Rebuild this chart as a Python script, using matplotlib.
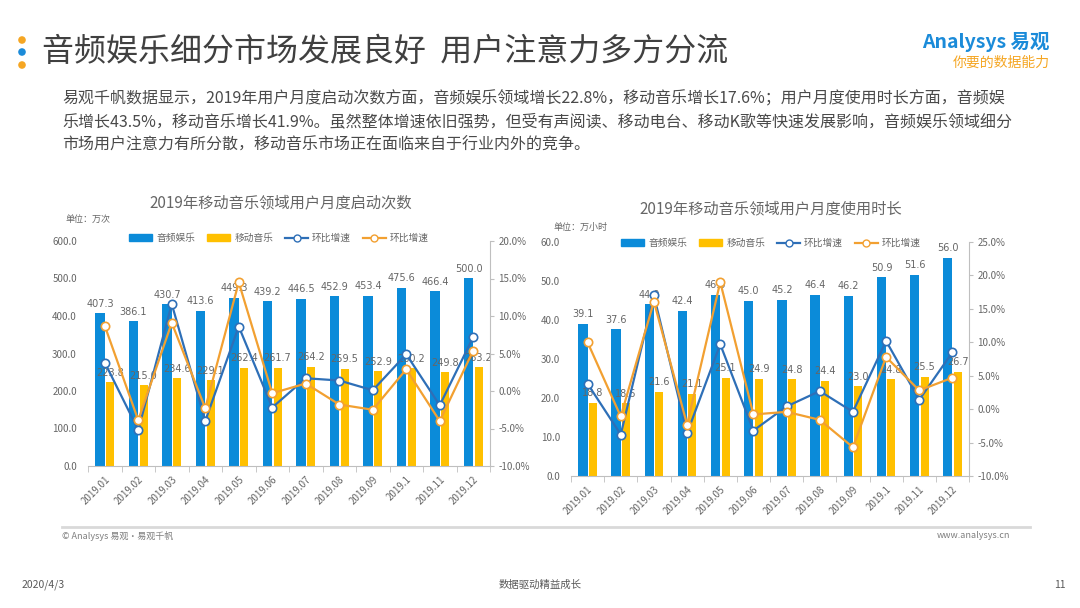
import matplotlib
matplotlib.use("Agg")
import matplotlib.pyplot as plt
import numpy as np
from matplotlib.lines import Line2D
from matplotlib.patches import Patch

plt.rcParams['font.family'] = ['Noto Sans CJK SC', 'DejaVu Sans']

months = ["2019.01", "2019.02", "2019.03", "2019.04", "2019.05", "2019.06",
          "2019.07", "2019.08", "2019.09", "2019.1", "2019.11", "2019.12"]

# 启动次数 (万次)
launch_audio = [407.3, 386.1, 430.7, 413.6, 449.3, 439.2, 446.5, 452.9, 453.4, 475.6, 466.4, 500.0]
launch_music = [223.8, 215.0, 234.6, 229.1, 262.4, 261.7, 264.2, 259.5, 252.9, 260.2, 249.8, 263.2]
launch_audio_mom = [3.8, -5.2, 11.6, -4.0, 8.6, -2.2, 1.7, 1.4, 0.1, 4.9, -1.9, 7.2]
launch_music_mom = [8.7, -3.9, 9.1, -2.3, 14.5, -0.3, 1.0, -1.8, -2.5, 2.9, -4.0, 5.4]

# 使用时长 (万小时)
time_audio = [39.1, 37.6, 44.0, 42.4, 46.5, 45.0, 45.2, 46.4, 46.2, 50.9, 51.6, 56.0]
time_music = [18.8, 18.6, 21.6, 21.1, 25.1, 24.9, 24.8, 24.4, 23.0, 24.8, 25.5, 26.7]
time_audio_mom = [3.8, -3.8, 17.0, -3.6, 9.7, -3.2, 0.4, 2.7, -0.4, 10.2, 1.4, 8.5]
time_music_mom = [10.0, -1.1, 16.1, -2.3, 19.0, -0.8, -0.4, -1.6, -5.7, 7.8, 2.8, 4.7]

BLUE = "#0B8BD9"
YELLOW = "#FFC000"
LBLUE = "#2E6FB7"
ORANGE = "#F2A031"
GRAY = "#666666"
AXG = "#BFBFBF"

W, H = 1080, 608
fig = plt.figure(figsize=(10.8, 6.08), dpi=100)


def fx(x):
    return x / W


def fy(y):
    return 1 - y / H


def draw_chart(rect, audio, music, audio_mom, music_mom, ylim, ystep, plim, pstep,
               title, title_pos, unit, unit_pos, leg_pos):
    x0, y0, x1, y1 = rect
    ax = fig.add_axes([fx(x0), fy(y1), fx(x1 - x0), (y1 - y0) / H])
    x = np.arange(len(months))
    bw = 0.28
    ax.bar(x - bw / 2, audio, bw, color=BLUE, zorder=2)
    ax.bar(x + bw / 2 + 0.02, music, bw * 0.85, color=YELLOW, zorder=2)
    off = (ylim[1] - ylim[0]) * 0.02
    for i in range(len(x)):
        ax.text(x[i] - bw / 2, audio[i] + off, "%.1f" % audio[i], ha="center", va="bottom",
                fontsize=7, color=GRAY, family=["DejaVu Sans"], zorder=3)
        ax.text(x[i] + bw / 2 + 0.02, music[i] + off, "%.1f" % music[i], ha="center", va="bottom",
                fontsize=7, color=GRAY, family=["DejaVu Sans"], zorder=3)
    ax.set_xlim(-0.5, len(x) - 0.5)
    ax.set_ylim(*ylim)
    yt = np.arange(ylim[0], ylim[1] + ystep / 2, ystep)
    ax.set_yticks(yt)
    ax.set_yticklabels(["%.1f" % v for v in yt])
    ax.set_xticks(x)
    ax.set_xticklabels(months, rotation=45, ha="right", rotation_mode="anchor")
    ax.set_xticks(np.arange(-0.5, len(x), 1), minor=True)
    ax.tick_params(axis="x", which="major", length=0, labelsize=7, labelcolor=GRAY, pad=6)
    ax.tick_params(axis="x", which="minor", length=4, color=AXG, direction="out")
    ax.tick_params(axis="y", length=0, labelsize=7, labelcolor=GRAY, pad=8)
    for s in ["top", "left", "right"]:
        ax.spines[s].set_visible(False)
    ax.spines["bottom"].set_color(AXG)

    ax2 = ax.twinx()
    ax2.plot(x, audio_mom, color=LBLUE, lw=1.6, marker="o", ms=6, mfc="white",
             mec=LBLUE, mew=1.2, zorder=4)
    ax2.plot(x, music_mom, color=ORANGE, lw=1.6, marker="o", ms=6, mfc="white",
             mec=ORANGE, mew=1.2, zorder=4)
    ax2.set_ylim(*plim)
    pt = np.arange(plim[0], plim[1] + pstep / 2, pstep)
    ax2.set_yticks(pt)
    ax2.set_yticklabels(["%.1f%%" % v for v in pt])
    ax2.tick_params(axis="y", length=3, color=AXG, labelsize=7, labelcolor=GRAY, pad=3)
    for s in ["top", "left", "bottom"]:
        ax2.spines[s].set_visible(False)
    ax2.spines["right"].set_color(AXG)

    fig.text(fx(title_pos[0]), fy(title_pos[1]), title, ha="center", va="center",
             fontsize=11, color=GRAY)
    fig.text(fx(unit_pos[0]), fy(unit_pos[1]), unit, ha="left", va="center",
             fontsize=6.5, color=GRAY)
    handles = [Patch(color=BLUE), Patch(color=YELLOW),
               Line2D([], [], color=LBLUE, lw=1.6, marker="o", ms=5, mfc="white", mec=LBLUE),
               Line2D([], [], color=ORANGE, lw=1.6, marker="o", ms=5, mfc="white", mec=ORANGE)]
    labels = ["音频娱乐", "移动音乐", "环比增速", "环比增速"]
    fig.legend(handles, labels, loc="center", bbox_to_anchor=(fx(leg_pos[0]), fy(leg_pos[1])),
               ncol=4, frameon=False, fontsize=7, labelcolor=GRAY, handlelength=2.4,
               handleheight=0.6, columnspacing=1.2, handletextpad=0.4)
    return ax


draw_chart((88, 241, 490, 466), launch_audio, launch_music, launch_audio_mom, launch_music_mom,
           (0, 600), 100, (-10, 20), 5, "2019年移动音乐领域用户月度启动次数", (281, 203),
           "单位：万次", (65, 219), (279, 238))
draw_chart((571, 242, 969, 476), time_audio, time_music, time_audio_mom, time_music_mom,
           (0, 60), 10, (-10, 25), 5, "2019年移动音乐领域用户月度使用时长", (771, 209),
           "单位：万小时", (553, 227), (771, 243))

# page overlay in pixel units
pg = fig.add_axes([0, 0, 1, 1], zorder=-1)
pg.set_xlim(0, W)
pg.set_ylim(H, 0)
pg.axis("off")
pg.scatter([22, 22, 22], [40, 52, 65], s=30, c=["#F5A623", "#1B8BD9", "#F5A623"], lw=0)
pg.plot([62, 1030], [527, 527], color="#D9D9D9", lw=2)

pg.text(42, 52, "音频娱乐细分市场发展良好  用户注意力多方分流", ha="left", va="center",
        fontsize=23, color="#404040")
pg.text(1050, 42, "Analysys 易观", ha="right", va="center", fontsize=14,
        color="#1B8BD9", fontweight="bold", style="italic")
pg.text(1050, 63, "你要的数据能力", ha="right", va="center", fontsize=10,
        color="#F5A623", style="italic")

body = ["易观千帆数据显示，2019年用户月度启动次数方面，音频娱乐领域增长22.8%，移动音乐增长17.6%；用户月度使用时长方面，音频娱",
        "乐增长43.5%，移动音乐增长41.9%。虽然整体增速依旧强势，但受有声阅读、移动电台、移动K歌等快速发展影响，音频娱乐领域细分",
        "市场用户注意力有所分散，移动音乐市场正在面临来自于行业内外的竞争。"]
for i, line in enumerate(body):
    pg.text(62, 99 + i * 23, line, ha="left", va="center", fontsize=11.5, color="#4A4A4A")

pg.text(62, 536, "© Analysys 易观·易观千帆", ha="left", va="center", fontsize=6.5, color="#7F7F7F")
pg.text(1010, 536, "www.analysys.cn", ha="right", va="center", fontsize=6.5, color="#7F7F7F")
pg.text(22, 585, "2020/4/3", ha="left", va="center", fontsize=7.5, color="#595959")
pg.text(540, 585, "数据驱动精益成长", ha="center", va="center", fontsize=7.5, color="#595959")
pg.text(1066, 585, "11", ha="right", va="center", fontsize=7.5, color="#595959")

fig.savefig("out.png", dpi=100, facecolor="white")
